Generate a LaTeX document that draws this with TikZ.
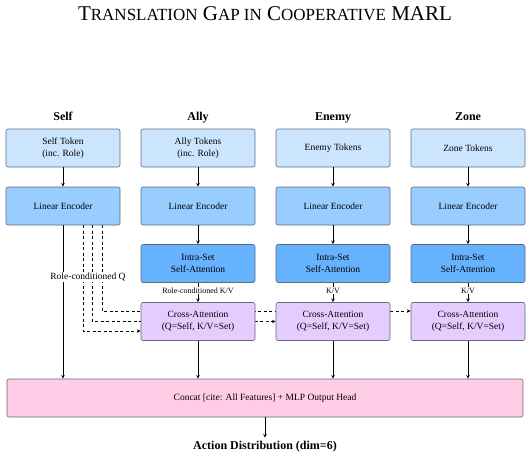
\documentclass[tikz,border=0pt]{standalone}
\usepackage{fontspec}
\setmainfont{Liberation Serif}
\usetikzlibrary{arrows,positioning,calc}
\pgfdeclarelayer{background}
\pgfsetlayers{background,main}
\definecolor{tokenblue}{HTML}{CCE5FF}
\definecolor{encblue}{HTML}{99CCFF}
\definecolor{attblue}{HTML}{66B2FF}
\definecolor{crosspurple}{HTML}{E5CCFF}
\definecolor{headpink}{HTML}{FFCCE6}
\definecolor{boxline}{HTML}{5F6B7A}
\newcommand{\tsc}[2]{#1{\fontsize{17}{20}\selectfont #2}}

\begin{document}
\begin{tikzpicture}[x=1pt, y=-1pt, >=stealth,
	blk/.style={draw=boxline, line width=0.6pt, rounded corners=2pt, minimum width=114pt, minimum height=38pt, align=center, inner sep=2pt, font=\fontsize{9.5}{11.5}\selectfont},
	tok/.style={blk, fill=tokenblue},
	enc/.style={blk, fill=encblue},
	att/.style={blk, fill=attblue},
	cross/.style={blk, fill=crosspurple},
	hdr/.style={anchor=base, font=\fontsize{12}{14}\selectfont\bfseries},
	kv/.style={fill=white, inner sep=1pt, font=\fontsize{8}{9}\selectfont},
	flow/.style={->, line width=0.7pt},
	qline/.style={->, line width=0.7pt, dash pattern=on 3pt off 2.5pt}]

	\useasboundingbox (0,0) rectangle (532,460);

	\node[font=\fontsize{21}{24}\selectfont] (title) at (265,13.5) {\tsc{T}{RANSLATION} \tsc{G}{AP IN} \tsc{C}{OOPERATIVE} MARL};

	% column headers
	\node[hdr] (h1) at (63,120) {Self};
	\node[hdr] (h2) at (198,120) {Ally};
	\node[hdr] (h3) at (333,120) {Enemy};
	\node[hdr] (h4) at (468,120) {Zone};

	% tokens
	\node[tok] (tok1) at (63,148) {Self Token\\(inc. Role)};
	\node[tok] (tok2) at (198,148) {Ally Tokens\\(inc. Role)};
	\node[tok] (tok3) at (333,148) {Enemy Tokens};
	\node[tok] (tok4) at (468,148) {Zone Tokens};

	% encoders
	\node[enc] (enc1) at (63,206) {Linear Encoder};
	\node[enc] (enc2) at (198,206) {Linear Encoder};
	\node[enc] (enc3) at (333,206) {Linear Encoder};
	\node[enc] (enc4) at (468,206) {Linear Encoder};

	% set attention
	\node[att] (att2) at (198,263.5) {Intra-Set\\Self-Attention};
	\node[att] (att3) at (333,263.5) {Intra-Set\\Self-Attention};
	\node[att] (att4) at (468,263.5) {Intra-Set\\Self-Attention};

	\node[cross] (cross2) at (198,321.5) {Cross-Attention\\(Q=Self, K/V=Set)};
	\node[cross] (cross3) at (333,321.5) {Cross-Attention\\(Q=Self, K/V=Set)};
	\node[cross] (cross4) at (468,321.5) {Cross-Attention\\(Q=Self, K/V=Set)};

	\node[blk, fill=headpink, minimum width=516pt] (concat) at (265,398) {Concat [cite: All Features] + MLP Output Head};
	\node[anchor=base, font=\fontsize{12}{14}\selectfont\bfseries] (action) at (265,449.5) {Action Distribution (dim=6)};

	\foreach \i in {1,...,4}
		\draw[flow] (tok\i) -- (enc\i);
	\foreach \i in {2,3,4}{
		\draw[flow] (enc\i) -- (att\i);
		\draw[flow] (cross\i) -- (cross\i |- concat.north);
	}
	\draw[flow] (att2) -- node[kv, pos=0.4] {Role-conditioned K/V} (cross2);
	\draw[flow] (att3) -- node[kv, pos=0.4] {K/V} (cross3);
	\draw[flow] (att4) -- node[kv, pos=0.4] {K/V} (cross4);

	\draw[flow] (enc1) -- (enc1 |- concat.north);
	\draw[flow] (concat) -- (action);

	% query from self, routed under the boxes
	\coordinate (q1) at (83,225);
	\coordinate (q2) at (92.5,225);
	\coordinate (q3) at (102,225);
	\begin{pgfonlayer}{background}
		\draw[qline] (q1) |- ([yshift=-9.5pt]cross2.west);
		\draw[qline] (q2) |- (cross3.west);
		\draw[qline] (q3) |- ([yshift=10.5pt]cross4.west);
	\end{pgfonlayer}
	\node[fill=white, inner sep=1pt, font=\fontsize{9.5}{11}\selectfont] (qlabel) at (88,277) {Role-conditioned Q};
\end{tikzpicture}
\end{document}
